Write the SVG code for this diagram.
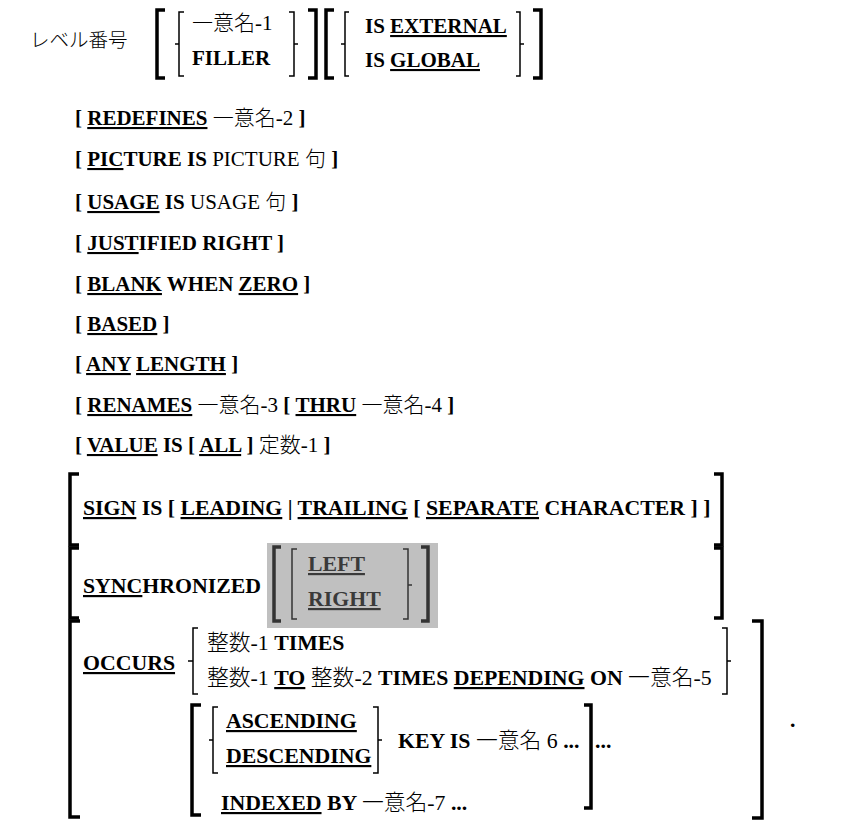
<svg xmlns="http://www.w3.org/2000/svg" width="844" height="832" viewBox="0 0 844 832">
<style>
text { font-family: "Liberation Serif", "Noto Sans CJK JP", serif; font-weight: bold; font-size: 21px; fill: #000; }
.s { font-size: 21.8px; }
.r { font-weight: 300; }
.j { font-family: "Noto Sans CJK JP", sans-serif; font-weight: 300; font-size: 19.5px; }
.u { text-decoration: underline; text-decoration-thickness: 1.5px; text-underline-offset: 3px; }
.g { fill: #3a3a3a; }
.bk { fill: none; stroke: #000; stroke-width: 3.5; }
.bt { fill: none; stroke: #000; stroke-width: 1.5; }
.gk { fill: none; stroke: #333; stroke-width: 3.5; }
.gt { fill: none; stroke: #333; stroke-width: 1.5; }
</style>
<rect width="844" height="832" fill="#fff"/>

<g id="header">
  <text class="j" x="30" y="47">レベル番号</text>
  <path class="bk" d="M165,10 H157 V78 H165"/>
  <path class="bt" d="M184,12 H179 V44 H175 M179,44 V76 H184"/>
  <text x="192" y="30"><tspan class="r">一意名-1</tspan></text>
  <text x="192" y="65">FILLER</text>
  <path class="bt" d="M289,12 H294 V44 H298 M294,44 V76 H289"/>
  <path class="bk" d="M308,10 H316 V78 H308"/>
  <path class="bk" d="M334,10 H326 V78 H334"/>
  <path class="bt" d="M349,12 H345 V44 H341 M345,44 V76 H349"/>
  <text x="365" y="33">IS <tspan class="u">EXTERNAL</tspan></text>
  <text x="365" y="67">IS <tspan class="u">GLOBAL</tspan></text>
  <path class="bt" d="M516,12 H520 V44 H524 M520,44 V76 H516"/>
  <path class="bk" d="M533,10 H541 V78 H533"/>
</g>

<g id="redefines"><text x="75" y="125">[ <tspan class="u">REDEFINES</tspan> <tspan class="r">一意名-2</tspan> ]</text></g>
<g id="picture"><text x="75" y="166">[ <tspan class="u">PIC</tspan>TURE IS <tspan class="r">PICTURE 句</tspan> ]</text></g>
<g id="usage"><text x="75" y="209">[ <tspan class="u">USAGE</tspan> IS <tspan class="r">USAGE 句</tspan> ]</text></g>
<g id="justified"><text x="75" y="250">[ <tspan class="u">JUST</tspan>IFIED RIGHT ]</text></g>
<g id="blank"><text x="75" y="291">[ <tspan class="u">BLANK</tspan> WHEN <tspan class="u">ZERO</tspan> ]</text></g>
<g id="based"><text x="75" y="331">[ <tspan class="u">BASED</tspan> ]</text></g>
<g id="anylength"><text x="75" y="371">[ <tspan class="u">ANY</tspan> <tspan class="u">LENGTH</tspan> ]</text></g>
<g id="renames"><text x="75" y="412">[ <tspan class="u">RENAMES</tspan> <tspan class="r">一意名-3</tspan> [ <tspan class="u">THRU</tspan> <tspan class="r">一意名-4</tspan> ]</text></g>
<g id="value"><text x="75" y="452">[ <tspan class="u">VALUE</tspan> IS [ <tspan class="u">ALL</tspan> ] <tspan class="r">定数-1</tspan> ]</text></g>

<g id="sign">
  <path class="bk" d="M79,474 H70 V545 H79"/>
  <text class="s" x="83" y="515"><tspan class="u">SIGN</tspan> IS [ <tspan class="u">LEADING</tspan> | <tspan class="u">TRAILING</tspan> [ <tspan class="u">SEPARATE</tspan> CHARACTER ] ]</text>
  <path class="bk" d="M714,474 H722 V545 H714"/>
</g>

<g id="synchronized">
  <path class="bk" d="M79,548 H70 V618 H79"/>
  <text class="s" x="83" y="593"><tspan class="u">SYNC</tspan>HRONIZED</text>
  <rect x="267" y="543" width="171" height="85" fill="#c0c0c0"/>
  <path class="gk" d="M281,547 H274 V621 H281"/>
  <path class="gt" d="M297,549 H292 V619 H297"/>
  <text class="s g" x="308" y="571"><tspan class="u">LEFT</tspan></text>
  <text class="s g" x="308" y="606"><tspan class="u">RIGHT</tspan></text>
  <path class="gt" d="M403,549 H408 V585 H412 M408,585 V619 H403"/>
  <path class="gk" d="M421,547 H428 V621 H421"/>
  <path class="bk" d="M714,548 H722 V618 H714"/>
</g>

<g id="occurs">
  <path class="bk" d="M80,621 H70 V817 H80"/>
  <text class="s" x="83" y="670"><tspan class="u">OCCURS</tspan></text>
  <path class="bt" d="M198,628 H193 V661 H188 M193,661 V694 H198"/>
  <text class="s" x="207" y="650"><tspan class="r">整数-1</tspan> TIMES</text>
  <text class="s" x="207" y="685"><tspan class="r">整数-1</tspan> <tspan class="u">TO</tspan> <tspan class="r">整数-2</tspan> TIMES <tspan class="u">DEPENDING</tspan> ON <tspan class="r">一意名-5</tspan></text>
  <path class="bt" d="M722,628 H727 V661 H731 M727,661 V694 H722"/>
  <path class="bk" d="M201,705 H192 V815 H201"/>
  <path class="bt" d="M218,707 H213 V740 H209 M213,740 V773 H218"/>
  <text class="s" x="226" y="728"><tspan class="u">ASCENDING</tspan></text>
  <text class="s" x="226" y="763"><tspan class="u">DESCENDING</tspan></text>
  <path class="bt" d="M373,707 H378 V740 H382 M378,740 V773 H373"/>
  <text class="s" x="398" y="748">KEY IS <tspan class="r">一意名 6</tspan> ...</text>
  <path class="bk" d="M584,705 H591 V808 H584"/>
  <text class="s" x="595" y="748">...</text>
  <text class="s" x="221" y="810"><tspan class="u">INDEXED</tspan> BY <tspan class="r">一意名-7</tspan> ...</text>
  <path class="bk" d="M752,621 H762 V818 H752"/>
</g>

<g id="period"><text class="s" x="790" y="727">.</text></g>
</svg>
